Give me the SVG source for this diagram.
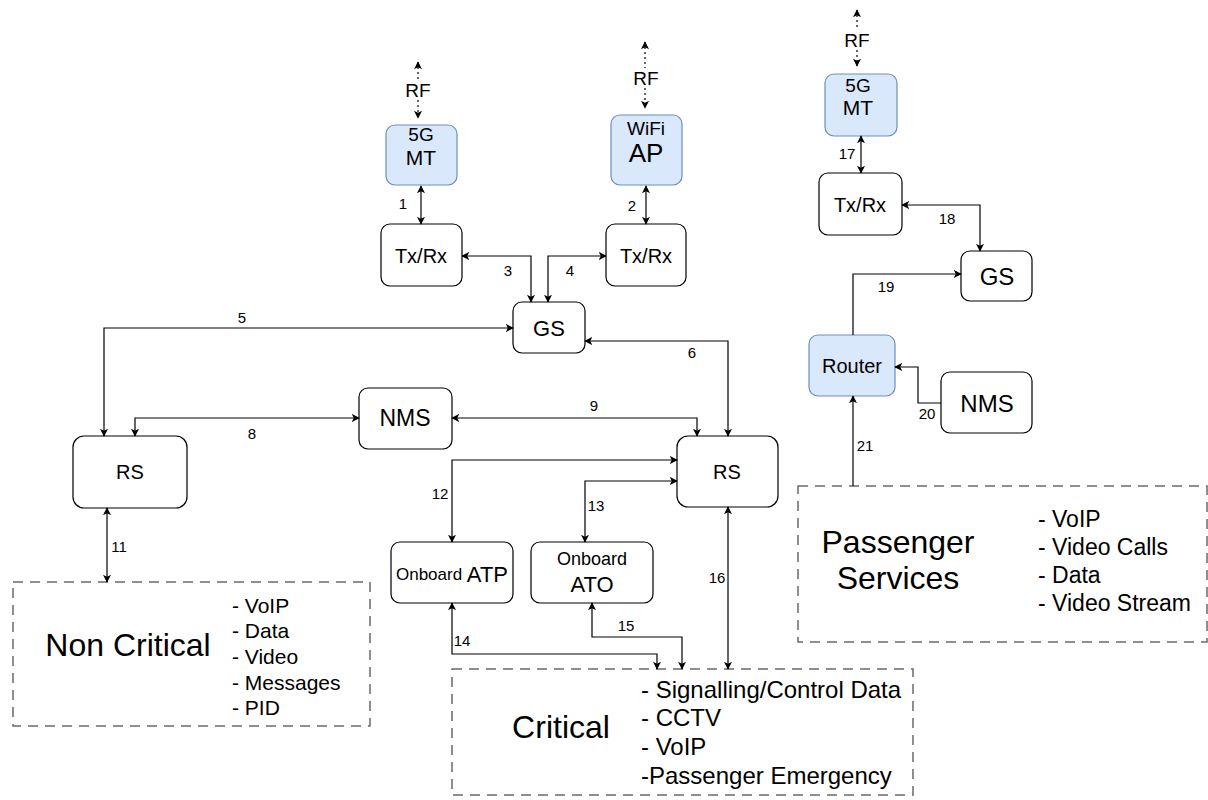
<svg xmlns="http://www.w3.org/2000/svg" width="1208" height="800" viewBox="0 0 1208 800">
<defs>
<marker id="ah" viewBox="0 0 10 10" refX="9" refY="5" markerWidth="8" markerHeight="8" markerUnits="userSpaceOnUse" orient="auto-start-reverse">
<path d="M0,0 L10,5 L0,10 L2.5,5 Z" fill="#000"/>
</marker>
<style>
text{font-family:"Liberation Sans",Arial,Helvetica,sans-serif;fill:#000;dominant-baseline:central}
.n{fill:#fff;stroke:#000;stroke-width:1.2}
.b{fill:#dae8fc;stroke:#6c8ebf;stroke-width:1.2}
.d{fill:none;stroke:#6a6a6a;stroke-width:1.5;stroke-dasharray:10 7}
.c{fill:none;stroke:#000;stroke-width:1.2}
.bi{marker-start:url(#ah);marker-end:url(#ah)}
.e{marker-end:url(#ah)}
.rf{fill:none;stroke:#000;stroke-width:1.2;stroke-dasharray:2 3;marker-start:url(#ah);marker-end:url(#ah)}
.m{text-anchor:middle}
.l{font-size:15px}
</style>
</defs>
<rect width="1208" height="800" fill="#fff"/>

<g id="mt1"><rect class="b" x="386" y="125" width="71" height="60" rx="9"/><text class="m" x="421" y="134" font-size="19">5G</text><text class="m" x="421" y="157" font-size="21">MT</text></g>
<g id="ap"><rect class="b" x="611" y="115" width="71" height="70" rx="9"/><text class="m" x="646" y="128" font-size="19">WiFi</text><text class="m" x="646" y="153" font-size="26">AP</text></g>
<g id="txrx1"><rect class="n" x="381" y="224" width="81" height="62" rx="9"/><text class="m" x="421" y="256" font-size="20">Tx/Rx</text></g>
<g id="txrx2"><rect class="n" x="606" y="224" width="80" height="62" rx="9"/><text class="m" x="646" y="256" font-size="20">Tx/Rx</text></g>
<g id="gs1"><rect class="n" x="513" y="302" width="72" height="51" rx="9"/><text class="m" x="549" y="328" font-size="22">GS</text></g>
<g id="nms1"><rect class="n" x="359" y="388" width="93" height="61" rx="9"/><text class="m" x="405" y="418" font-size="23">NMS</text></g>
<g id="rs1"><rect class="n" x="73" y="436" width="114" height="72" rx="11"/><text class="m" x="130" y="472" font-size="20">RS</text></g>
<g id="rs2"><rect class="n" x="677" y="436" width="101" height="71" rx="11"/><text class="m" x="727" y="472" font-size="20">RS</text></g>
<g id="atp"><rect class="n" x="391" y="542" width="122" height="61" rx="9"/><text class="m" x="452" y="574"><tspan font-size="17">Onboard </tspan><tspan font-size="22">ATP</tspan></text></g>
<g id="ato"><rect class="n" x="531" y="542" width="122" height="61" rx="9"/><text class="m" x="592" y="559" font-size="18">Onboard</text><text class="m" x="592" y="584" font-size="22">ATO</text></g>
<g id="mt2"><rect class="b" x="825" y="74" width="72" height="62" rx="9"/><text class="m" x="858" y="85" font-size="19">5G</text><text class="m" x="858" y="107" font-size="21">MT</text></g>
<g id="txrx3"><rect class="n" x="819" y="173" width="83" height="62" rx="9"/><text class="m" x="860" y="205" font-size="20">Tx/Rx</text></g>
<g id="gs2"><rect class="n" x="961" y="251" width="71" height="50" rx="9"/><text class="m" x="997" y="276" font-size="24">GS</text></g>
<g id="router"><rect class="b" x="809" y="335" width="86" height="61" rx="9"/><text class="m" x="852" y="366" font-size="20">Router</text></g>
<g id="nms2"><rect class="n" x="941" y="372" width="91" height="61" rx="9"/><text class="m" x="987" y="403" font-size="24">NMS</text></g>

<g id="noncritical"><rect class="d" x="13" y="582" width="357" height="144"/><text class="m" x="128" y="645" font-size="32">Non Critical</text>
<text x="232" font-size="21"><tspan x="232" y="605">- VoIP</tspan><tspan x="232" y="630">- Data</tspan><tspan x="232" y="656">- Video</tspan><tspan x="232" y="682">- Messages</tspan><tspan x="232" y="707">- PID</tspan></text></g>
<g id="critical"><rect class="d" x="452" y="669" width="461" height="126"/><text class="m" x="561" y="727" font-size="32">Critical</text>
<text font-size="24"><tspan x="641" y="689">- Signalling/Control Data</tspan><tspan x="641" y="717">- CCTV</tspan><tspan x="641" y="746">- VoIP</tspan><tspan x="641" y="775">-Passenger Emergency</tspan></text></g>
<g id="passenger"><rect class="d" x="798" y="486" width="409" height="156"/><text class="m" x="898" y="542" font-size="32">Passenger</text><text class="m" x="898" y="578" font-size="32">Services</text>
<text font-size="23"><tspan x="1038" y="519">- VoIP</tspan><tspan x="1038" y="547">- Video Calls</tspan><tspan x="1038" y="575">- Data</tspan><tspan x="1038" y="603">- Video Stream</tspan></text></g>

<g id="connectors">
<path class="rf" d="M418,62 L418,80 M418,100 L418,118"/>
<path class="rf" d="M645,42 L645,68 M645,88 L645,108"/>
<path class="rf" d="M857,10 L857,30 M857,50 L857,66"/>
<path class="c bi" d="M421,186 L421,224"/>
<path class="c bi" d="M646,186 L646,224"/>
<path class="c bi" d="M462,256 L531,256 L531,302"/>
<path class="c bi" d="M548,302 L548,256 L606,256"/>
<path class="c bi" d="M513,328 L104,328 L104,436"/>
<path class="c bi" d="M585,341 L728,341 L728,436"/>
<path class="c bi" d="M135,436 L135,418 L359,418"/>
<path class="c bi" d="M452,418 L697,418 L697,436"/>
<path class="c bi" d="M107,508 L107,582"/>
<path class="c bi" d="M677,460 L452,460 L452,542"/>
<path class="c bi" d="M677,481 L585,481 L585,542"/>
<path class="c bi" d="M452,603 L452,654 L657,654 L657,669"/>
<path class="c bi" d="M592,603 L592,637 L682,637 L682,669"/>
<path class="c bi" d="M728,507 L728,669"/>
<path class="c bi" d="M861,136 L861,173"/>
<path class="c bi" d="M902,205 L980,205 L980,251"/>
<path class="c e" d="M853,335 L853,274 L961,274"/>
<path class="c e" d="M941,403 L918,403 L918,367 L895,367"/>
<path class="c e" d="M853,486 L853,396"/>
<g class="l">
<text class="m" x="418" y="90" font-size="19">RF</text>
<text class="m" x="646" y="78" font-size="19">RF</text>
<text class="m" x="857" y="40" font-size="19">RF</text>
<text class="m" x="403" y="203">1</text>
<text class="m" x="632" y="205">2</text>
<text class="m" x="508" y="270">3</text>
<text class="m" x="570" y="270">4</text>
<text class="m" x="242" y="317">5</text>
<text class="m" x="692" y="352">6</text>
<text class="m" x="252" y="433">8</text>
<text class="m" x="594" y="405">9</text>
<text class="m" x="119" y="546">11</text>
<text class="m" x="440" y="493">12</text>
<text class="m" x="596" y="505">13</text>
<text class="m" x="462" y="640">14</text>
<text class="m" x="626" y="625">15</text>
<text class="m" x="717" y="577">16</text>
<text class="m" x="847" y="153">17</text>
<text class="m" x="947" y="218">18</text>
<text class="m" x="886" y="286">19</text>
<text class="m" x="927" y="413">20</text>
<text class="m" x="865" y="445">21</text>
</g>
</g>
</svg>
